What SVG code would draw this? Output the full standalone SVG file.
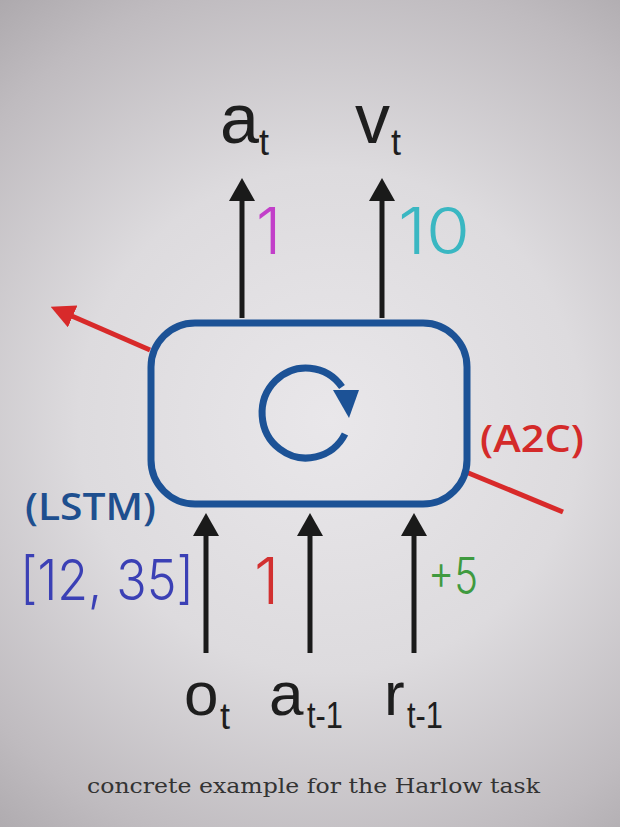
<svg xmlns="http://www.w3.org/2000/svg" width="620" height="827" viewBox="0 0 620 827">
<defs>
<radialGradient id="bg" cx="330" cy="420" r="560" gradientUnits="userSpaceOnUse">
<stop offset="0" stop-color="#e9e7ea"/>
<stop offset="0.45" stop-color="#dddbde"/>
<stop offset="0.8" stop-color="#bfbbbf"/>
<stop offset="1" stop-color="#a8a4a8"/>
</radialGradient>
<marker id="ah" markerUnits="userSpaceOnUse" viewBox="0 0 23 26" markerWidth="23" markerHeight="26" refX="15" refY="13" orient="auto">
<path d="M0,0 L23,13 L0,26 z" fill="#1a1a1a"/>
</marker>
<marker id="rh" markerUnits="userSpaceOnUse" viewBox="0 0 24 24" markerWidth="24" markerHeight="24" refX="16" refY="12" orient="auto">
<path d="M0,0 L24,12 L0,24 z" fill="#d82a2a"/>
</marker>
</defs>
<style>
.blk{stroke:#1a1a1a;stroke-width:5;fill:none}
.red{stroke:#d82a2a;stroke-width:5;fill:none}
.sym{font-family:"Liberation Sans",Arial,sans-serif;fill:#1e1e1e}
.big{font-size:70px}
.bigb{font-size:62px}
.sub{font-size:36px}
.hand{font-family:Inter,"DejaVu Sans",sans-serif;font-weight:300}
.lab{font-family:"Open Sans","Noto Sans",sans-serif;font-weight:600}
</style>
<rect width="620" height="827" fill="url(#bg)"/>

<g id="connectors">
<line class="blk" x1="242" y1="318" x2="242" y2="186" marker-end="url(#ah)"/>
<line class="blk" x1="382" y1="318" x2="382" y2="186" marker-end="url(#ah)"/>
<line class="blk" x1="206" y1="653" x2="206" y2="521" marker-end="url(#ah)"/>
<line class="blk" x1="310" y1="653" x2="310" y2="521" marker-end="url(#ah)"/>
<line class="blk" x1="414" y1="653" x2="414" y2="521" marker-end="url(#ah)"/>
<line class="red" x1="150" y1="350" x2="58" y2="310" marker-end="url(#rh)"/>
<line class="red" x1="466" y1="472" x2="563" y2="512"/>
</g>

<g id="lstm">
<rect x="151" y="323" width="316" height="181" rx="44" ry="44" fill="none" stroke="#1c5296" stroke-width="7"/>
<path d="M345,434 A44,45 0 1 1 342,387" fill="none" stroke="#1c5296" stroke-width="7"/>
<polygon points="333,390 359,390 349,418" fill="#1c5296"/>
</g>

<g id="out-a">
<text class="sym big" x="220" y="143">a</text>
<text class="sym sub" x="259" y="155">t</text>
</g>
<g id="out-v">
<text class="sym big" x="355" y="143">v</text>
<text class="sym sub" x="391" y="155">t</text>
</g>
<g id="in-o">
<text class="sym bigb" x="184" y="715">o</text>
<text class="sym sub" x="220" y="729">t</text>
</g>
<g id="in-a">
<text class="sym bigb" x="269" y="715">a</text>
<text class="sym sub" x="307" y="728" textLength="36" lengthAdjust="spacingAndGlyphs">t-1</text>
</g>
<g id="in-r">
<text class="sym bigb" x="384" y="715">r</text>
<text class="sym sub" x="407" y="728" textLength="36" lengthAdjust="spacingAndGlyphs">t-1</text>
</g>

<g id="values">
<text class="hand" font-size="64" x="256" y="254" fill="#c23fc9">1</text>
<text class="hand" font-size="64" x="398" y="254" fill="#3ab7c2" textLength="72" lengthAdjust="spacingAndGlyphs">10</text>
<text class="hand" font-size="56" x="20" y="600" fill="#3b40b5" textLength="174" lengthAdjust="spacingAndGlyphs">[12, 35]</text>
<text class="hand" font-size="64" x="254" y="604" fill="#d23030">1</text>
<text class="hand" font-size="50" x="428" y="594" fill="#3f9a3f" textLength="50" lengthAdjust="spacingAndGlyphs">+5</text>
</g>

<g id="labels">
<text class="lab" font-size="37" x="480" y="452" fill="#d42a2a" textLength="104" lengthAdjust="spacingAndGlyphs">(A2C)</text>
<text class="lab" font-size="37" x="25" y="520" fill="#1e4f8f" textLength="131" lengthAdjust="spacingAndGlyphs">(LSTM)</text>
</g>

<text x="87" y="793" font-family="DejaVu Serif,serif" font-size="21" fill="#333" textLength="453" lengthAdjust="spacingAndGlyphs">concrete example for the Harlow task</text>
</svg>
